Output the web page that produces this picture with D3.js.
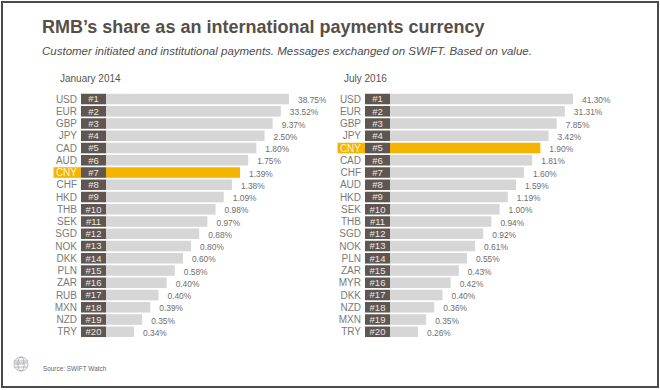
<!DOCTYPE html>
<meta charset="utf-8">
<head>
  <title>RMB's share as an international payments currency</title>
</head>
<style>
  body { margin: 0; background: #fff; }
  svg { display: block; font-family: "Liberation Sans", Arial, sans-serif; }
  .title { font-size: 18px; font-weight: bold; fill: #574e48; }
  .subtitle { font-size: 11.5px; font-style: italic; fill: #4d4d4d; }
  .panelTitle { font-size: 10px; fill: #555; }
  .ccy { font-size: 10px; fill: #7a7a7a; text-anchor: end; }
  .ccy.hl { fill: #fbf3dc; }
  .rank { font-size: 9.5px; fill: #ece8e4; text-anchor: middle; }
  .val { font-size: 8.4px; fill: #6e6e6e; }
  .source { font-size: 6.4px; fill: #666; }
</style>
<body>
<script src="https://cdn.jsdelivr.net/npm/d3@7"></script>
<script>
// January 2014 ranking
var janCurrencies = ["USD","EUR","GBP","JPY","CAD","AUD","CNY","CHF","HKD","THB",
                     "SEK","SGD","NOK","DKK","PLN","ZAR","RUB","MXN","NZD","TRY"];
var janValues = [38.75, 33.52, 9.37, 2.50, 1.80, 1.75, 1.39, 1.38, 1.09, 0.98,
                 0.97, 0.88, 0.80, 0.60, 0.58, 0.40, 0.40, 0.39, 0.35, 0.34];

// July 2016 ranking
var julCurrencies = ["USD","EUR","GBP","JPY","CNY","CAD","CHF","AUD","HKD","SEK",
                     "THB","SGD","NOK","PLN","ZAR","MYR","DKK","NZD","MXN","TRY"];
var julValues = [41.30, 31.31, 7.85, 3.42, 1.90, 1.81, 1.60, 1.59, 1.19, 1.00,
                 0.94, 0.92, 0.61, 0.55, 0.43, 0.42, 0.40, 0.36, 0.35, 0.26];

var panelTitles = ["January 2014", "July 2016"];
var highlight = "CNY";

var W = 660, H = 390;

var svg = d3.select("body").append("svg")
    .attr("width", W)
    .attr("height", H);

// frame
svg.append("rect")
    .attr("x", 2).attr("y", 2)
    .attr("width", 656).attr("height", 385)
    .attr("fill", "none")
    .attr("stroke", "#4a4a4a")
    .attr("stroke-width", 2);

svg.append("text")
    .attr("class", "title")
    .attr("x", 42).attr("y", 33)
    .text("RMB\u2019s share as an international payments currency");

svg.append("text")
    .attr("class", "subtitle")
    .attr("x", 42).attr("y", 55)
    .text("Customer initiated and institutional payments. Messages exchanged on SWIFT. Based on value.");

// rows: one band per rank
var yScale = d3.scaleBand()
    .domain(d3.range(20))
    .range([92.9, 92.9 + 20 * 12.25])
    .paddingInner(0.14)
    .paddingOuter(0.07);

// the bars are stepped by rank, not sized by value
var wScale = d3.scaleLinear()
    .domain([1, 20])
    .range([183, 28]);

function drawPanel(x0, title, currencies, values) {
  var g = svg.append("g")
      .attr("transform", "translate(" + x0 + ",0)");

  var rows = currencies.map(function(c, i) {
    return {ccy: c, value: values[i], rank: i + 1, i: i};
  });

  g.append("text")
      .attr("class", "panelTitle")
      .attr("x", -21).attr("y", 82)
      .text(title);

  var row = g.selectAll(".row")
      .data(rows)
      .enter().append("g")
      .attr("class", "row")
      .attr("transform", function(d) { return "translate(0," + yScale(d.i) + ")"; });

  // highlight behind currency label
  row.filter(function(d) { return d.ccy === highlight; })
    .append("rect")
      .attr("x", -27.5)
      .attr("width", 27.5)
      .attr("height", yScale.bandwidth())
      .attr("fill", "#f5b400");

  row.append("text")
      .attr("class", function(d) { return d.ccy === highlight ? "ccy hl" : "ccy"; })
      .attr("x", -4)
      .attr("y", yScale.bandwidth() / 2)
      .attr("dy", "0.36em")
      .text(function(d) { return d.ccy; });

  // rank box
  row.append("rect")
      .attr("width", 25)
      .attr("height", yScale.bandwidth())
      .attr("fill", "#5f5651");

  row.append("text")
      .attr("class", "rank")
      .attr("x", 12.5)
      .attr("y", yScale.bandwidth() / 2)
      .attr("dy", "0.36em")
      .text(function(d) { return "#" + d.rank; });

  // bar
  row.append("rect")
      .attr("x", 25)
      .attr("width", function(d) { return wScale(d.rank); })
      .attr("height", yScale.bandwidth())
      .attr("fill", function(d) { return d.ccy === highlight ? "#f5b400" : "#d6d6d6"; });

  row.append("text")
      .attr("class", "val")
      .attr("x", function(d) { return 25 + wScale(d.rank) + 9; })
      .attr("y", yScale.bandwidth() / 2 + 1)
      .attr("dy", "0.36em")
      .text(function(d) { return d.value.toFixed(2) + "%"; });
}

drawPanel(81, panelTitles[0], janCurrencies, janValues);
drawPanel(365, panelTitles[1], julCurrencies, julValues);

// SWIFT logo (small globe)
var logo = svg.append("g")
    .attr("transform", "translate(21,364)")
    .attr("fill", "none")
    .attr("stroke", "#9a9a9a")
    .attr("stroke-width", 0.7);
logo.append("circle").attr("r", 7);
logo.append("ellipse").attr("rx", 3.2).attr("ry", 7);
logo.append("line").attr("x1", -6.5).attr("x2", 6.5).attr("y1", -3).attr("y2", -3);
logo.append("line").attr("x1", -6.5).attr("x2", 6.5).attr("y1", 3).attr("y2", 3);
logo.append("text")
    .attr("text-anchor", "middle")
    .attr("dy", "0.35em")
    .attr("stroke", "none")
    .attr("fill", "#8a8a8a")
    .style("font-size", "4px")
    .text("SWIFT");

svg.append("text")
    .attr("class", "source")
    .attr("x", 43).attr("y", 371)
    .text("Source: SWIFT Watch");
</script>
</body>
